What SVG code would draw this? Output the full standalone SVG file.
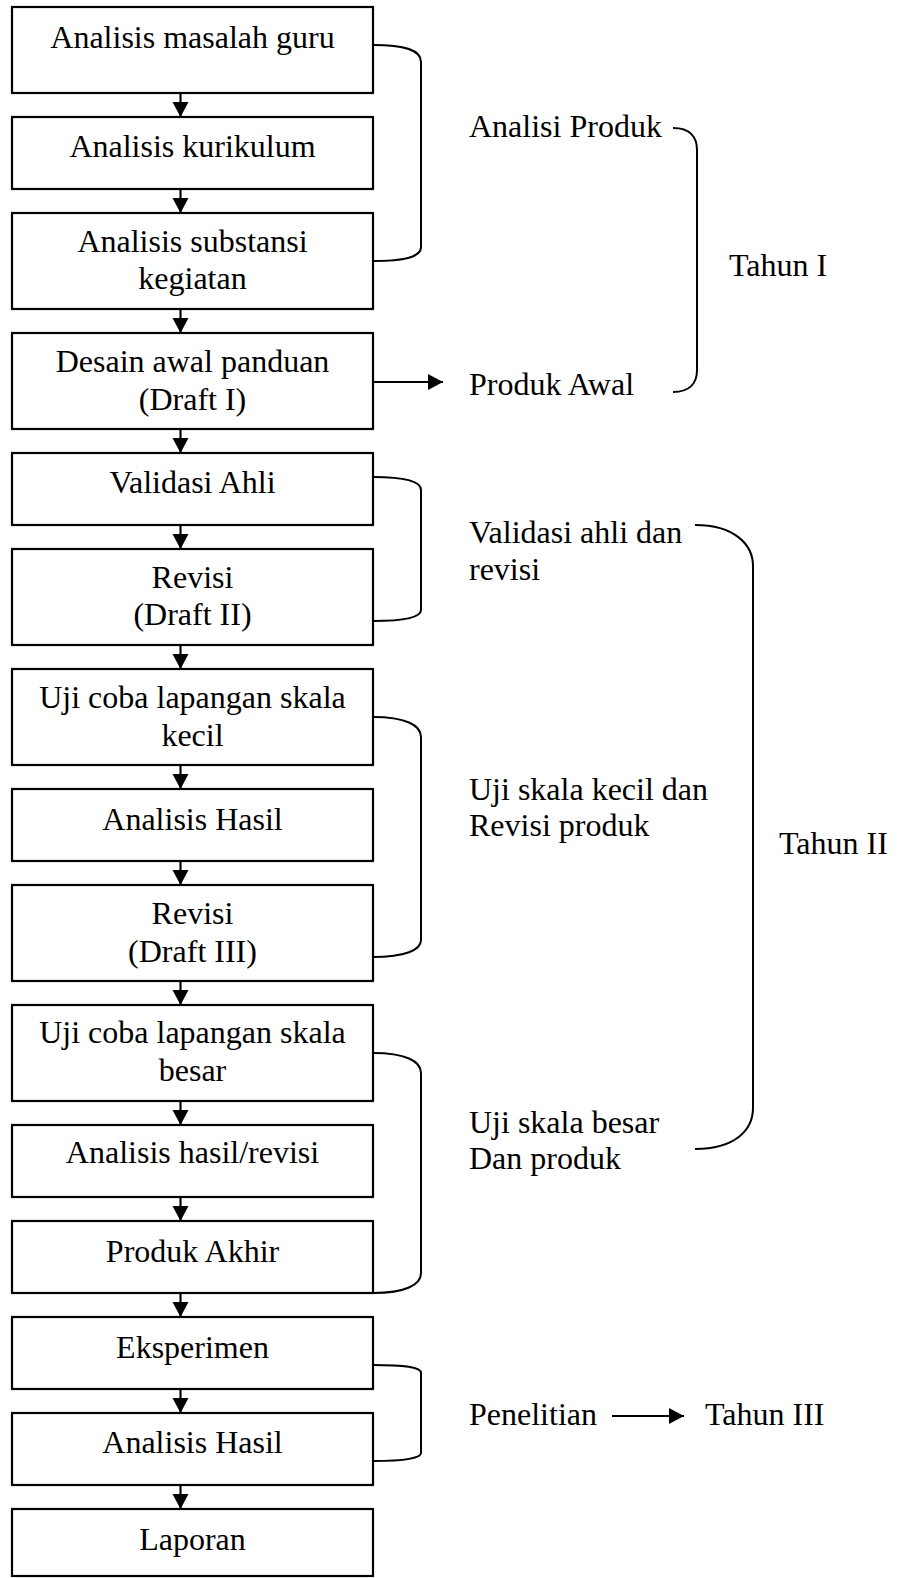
<svg xmlns="http://www.w3.org/2000/svg" width="905" height="1578" viewBox="0 0 905 1578">
<defs>
<style>
.box{fill:#fff;stroke:#000;stroke-width:2.2}
.t{font-family:"Liberation Serif","Times New Roman",serif;font-size:32px;fill:#000}
.c{text-anchor:middle}
.ln{fill:none;stroke:#000;stroke-width:2.2}
.br{fill:none;stroke:#000;stroke-width:2}
</style>
<marker id="ah" markerUnits="userSpaceOnUse" markerWidth="18" markerHeight="18" viewBox="0 0 18 18" refX="15" refY="9" orient="auto">
<path d="M0,1 L15,9 L0,17 Z" fill="#000"/>
</marker>
</defs>
<rect width="905" height="1578" fill="#fff"/>
<g id="connectors">
<line class="ln" x1="180.5" y1="93" x2="180.5" y2="117" marker-end="url(#ah)"/>
<line class="ln" x1="180.5" y1="189" x2="180.5" y2="213" marker-end="url(#ah)"/>
<line class="ln" x1="180.5" y1="309" x2="180.5" y2="333" marker-end="url(#ah)"/>
<line class="ln" x1="180.5" y1="429" x2="180.5" y2="453" marker-end="url(#ah)"/>
<line class="ln" x1="180.5" y1="525" x2="180.5" y2="549" marker-end="url(#ah)"/>
<line class="ln" x1="180.5" y1="645" x2="180.5" y2="669" marker-end="url(#ah)"/>
<line class="ln" x1="180.5" y1="765" x2="180.5" y2="789" marker-end="url(#ah)"/>
<line class="ln" x1="180.5" y1="861" x2="180.5" y2="885" marker-end="url(#ah)"/>
<line class="ln" x1="180.5" y1="981" x2="180.5" y2="1005" marker-end="url(#ah)"/>
<line class="ln" x1="180.5" y1="1101" x2="180.5" y2="1125" marker-end="url(#ah)"/>
<line class="ln" x1="180.5" y1="1197" x2="180.5" y2="1221" marker-end="url(#ah)"/>
<line class="ln" x1="180.5" y1="1293" x2="180.5" y2="1317" marker-end="url(#ah)"/>
<line class="ln" x1="180.5" y1="1389" x2="180.5" y2="1413" marker-end="url(#ah)"/>
<line class="ln" x1="180.5" y1="1485" x2="180.5" y2="1509" marker-end="url(#ah)"/>
<line class="ln" x1="373" y1="382" x2="443" y2="382" marker-end="url(#ah)"/>
<line class="ln" x1="612" y1="1416" x2="684" y2="1416" marker-end="url(#ah)"/>
<path class="br" d="M373,45 C405,45 421,50 421,62 V247 C421,257 405,261 373,261"/>
<path class="br" d="M373,477 C405,477 421,481 421,490 V610 C421,617 405,621 373,621"/>
<path class="br" d="M373,717 C405,717 421,725 421,737 V940 C421,950 405,957 373,957"/>
<path class="br" d="M373,1053 C405,1053 421,1061 421,1073 V1273 C421,1285 405,1293 373,1293"/>
<path class="br" d="M373,1365 C405,1365 421,1367 421,1373 V1453 C421,1458 405,1461 373,1461"/>
<path class="br" d="M673,128 C690,128 697,137 697,150 V370 C697,383 690,392 673,392"/>
<path class="br" d="M695,525 C735,525 753,545 753,566 V1108 C753,1130 735,1149 695,1149"/>
</g>
<g id="n1"><rect class="box" x="12" y="7" width="361" height="86"/><text class="t c" x="192.5" y="48">Analisis masalah guru</text></g>
<g id="n2"><rect class="box" x="12" y="117" width="361" height="72"/><text class="t c" x="192.5" y="157">Analisis kurikulum</text></g>
<g id="n3"><rect class="box" x="12" y="213" width="361" height="96"/><text class="t c" x="192.5" y="252">Analisis substansi</text><text class="t c" x="192.5" y="289">kegiatan</text></g>
<g id="n4"><rect class="box" x="12" y="333" width="361" height="96"/><text class="t c" x="192.5" y="372">Desain awal panduan</text><text class="t c" x="192.5" y="410">(Draft I)</text></g>
<g id="n5"><rect class="box" x="12" y="453" width="361" height="72"/><text class="t c" x="192.5" y="493">Validasi Ahli</text></g>
<g id="n6"><rect class="box" x="12" y="549" width="361" height="96"/><text class="t c" x="192.5" y="588">Revisi</text><text class="t c" x="192.5" y="625">(Draft II)</text></g>
<g id="n7"><rect class="box" x="12" y="669" width="361" height="96"/><text class="t c" x="192.5" y="708">Uji coba lapangan skala</text><text class="t c" x="192.5" y="746">kecil</text></g>
<g id="n8"><rect class="box" x="12" y="789" width="361" height="72"/><text class="t c" x="192.5" y="830">Analisis Hasil</text></g>
<g id="n9"><rect class="box" x="12" y="885" width="361" height="96"/><text class="t c" x="192.5" y="924">Revisi</text><text class="t c" x="192.5" y="962">(Draft III)</text></g>
<g id="n10"><rect class="box" x="12" y="1005" width="361" height="96"/><text class="t c" x="192.5" y="1043">Uji coba lapangan skala</text><text class="t c" x="192.5" y="1081">besar</text></g>
<g id="n11"><rect class="box" x="12" y="1125" width="361" height="72"/><text class="t c" x="192.5" y="1163">Analisis hasil/revisi</text></g>
<g id="n12"><rect class="box" x="12" y="1221" width="361" height="72"/><text class="t c" x="192.5" y="1262">Produk Akhir</text></g>
<g id="n13"><rect class="box" x="12" y="1317" width="361" height="72"/><text class="t c" x="192.5" y="1358">Eksperimen</text></g>
<g id="n14"><rect class="box" x="12" y="1413" width="361" height="72"/><text class="t c" x="192.5" y="1453">Analisis Hasil</text></g>
<g id="n15"><rect class="box" x="12" y="1509" width="361" height="67"/><text class="t c" x="192.5" y="1550">Laporan</text></g>
<g id="labels">
<text class="t" x="469" y="137">Analisi Produk</text>
<text class="t" x="729" y="276">Tahun I</text>
<text class="t" x="469" y="395">Produk Awal</text>
<text class="t" x="469" y="543">Validasi ahli dan</text>
<text class="t" x="469" y="580">revisi</text>
<text class="t" x="469" y="800">Uji skala kecil dan</text>
<text class="t" x="469" y="836">Revisi produk</text>
<text class="t" x="779" y="854">Tahun II</text>
<text class="t" x="469" y="1133">Uji skala besar</text>
<text class="t" x="469" y="1169">Dan produk</text>
<text class="t" x="469" y="1425">Penelitian</text>
<text class="t" x="705" y="1425">Tahun III</text>
</g>
</svg>
